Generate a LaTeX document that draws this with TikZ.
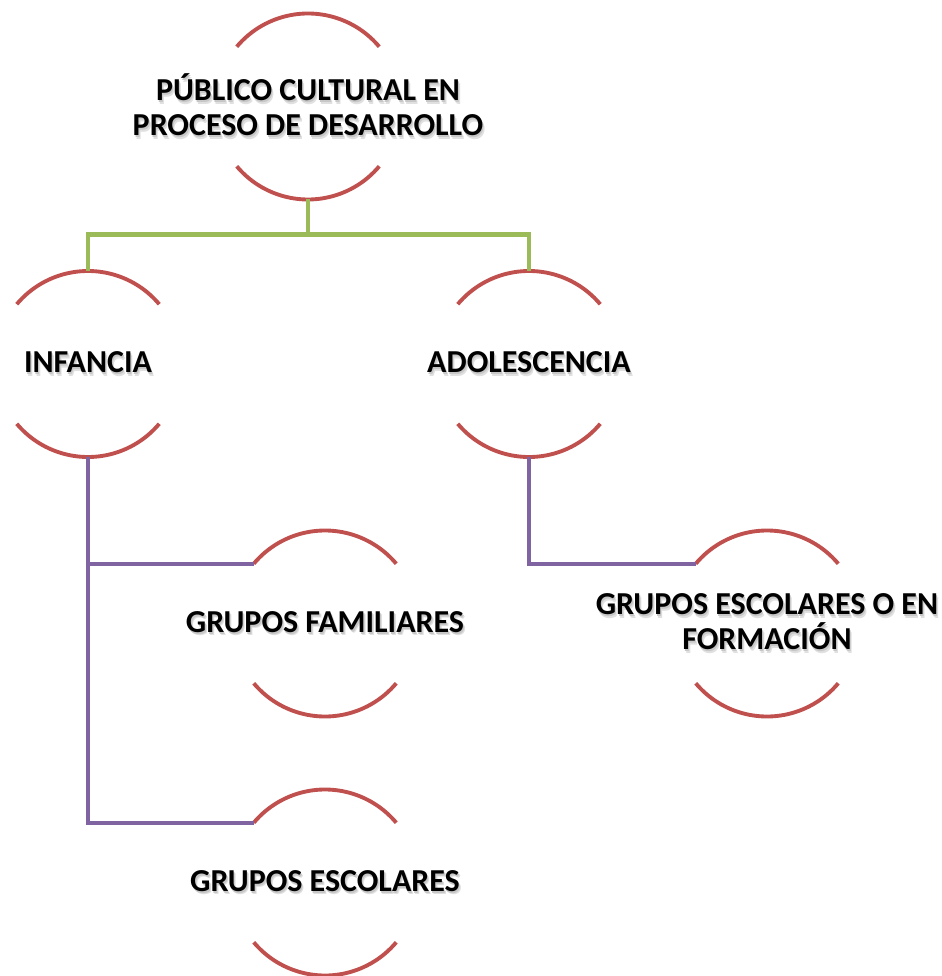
\documentclass[tikz,border=0pt]{standalone}
\usepackage{fontspec}
\setmainfont{Carlito}
\usetikzlibrary{positioning}

\definecolor{arcred}{HTML}{C0504D}
\definecolor{linkgreen}{HTML}{9BBB59}
\definecolor{linkpurple}{HTML}{8064A2}

% text with a soft grey shadow under it
\newcommand{\shd}[1]{%
  \makebox[0pt][l]{\hspace{1.2pt}\raisebox{-2pt}{\textcolor{black!12}{#1}}}%
  \makebox[0pt][l]{\hspace{0.6pt}\raisebox{-1.3pt}{\textcolor{black!22}{#1}}}#1}

\tikzset{
  ring/.style={circle, minimum size=3.72cm, inner sep=0pt, outer sep=0pt},
  lbl/.style={font=\fontsize{18.2}{20}\selectfont\bfseries, align=center, inner sep=0pt},
  arcline/.style={draw=arcred, line width=2.2pt},
  greenlink/.style={draw=linkgreen, line width=2.4pt},
  purplelink/.style={draw=linkpurple, line width=2.4pt}
}

\begin{document}
\begin{tikzpicture}
\useasboundingbox (0,0) rectangle (18.82,-19.52);

\node[ring, label={[lbl]center:\shd{PÚBLICO CULTURAL EN}\\\shd{PROCESO DE DESARROLLO}}] (publico) at (6.16,-2.13) {};
\node[ring, label={[lbl]center:\shd{INFANCIA}}] (infancia) at (1.76,-7.28) {};
\node[ring, label={[lbl]center:\shd{ADOLESCENCIA}}] (adolescencia) at (10.58,-7.28) {};
\node[ring, label={[lbl]center:\shd{GRUPOS FAMILIARES}}] (familiares) at (6.5,-12.47) {};
\node[ring, label={[lbl]center:\shd{GRUPOS ESCOLARES}}] (escolares) at (6.5,-17.65) {};
\node[ring, label={[lbl]center:\shd{GRUPOS ESCOLARES O EN}\\\shd{FORMACIÓN}}] (formacion) at (15.34,-12.47) {};

% arcs above and below each node
\foreach \n in {publico,infancia,adolescencia,familiares,escolares,formacion} {
  \draw[arcline] (\n.40) arc[start angle=40, end angle=140, radius=1.86cm];
  \draw[arcline] (\n.-140) arc[start angle=-140, end angle=-40, radius=1.86cm];
}

% connectors
\coordinate (split) at ([yshift=-0.7cm]publico.south);
\draw[greenlink] (publico.south) -- (split) -| (infancia.north);
\draw[greenlink] (split) -| (adolescencia.north);
\draw[purplelink] (infancia.south) |- (familiares.140);
\draw[purplelink] (infancia.south) |- (escolares.140);
\draw[purplelink] (adolescencia.south) |- (formacion.140);
\end{tikzpicture}
\end{document}
